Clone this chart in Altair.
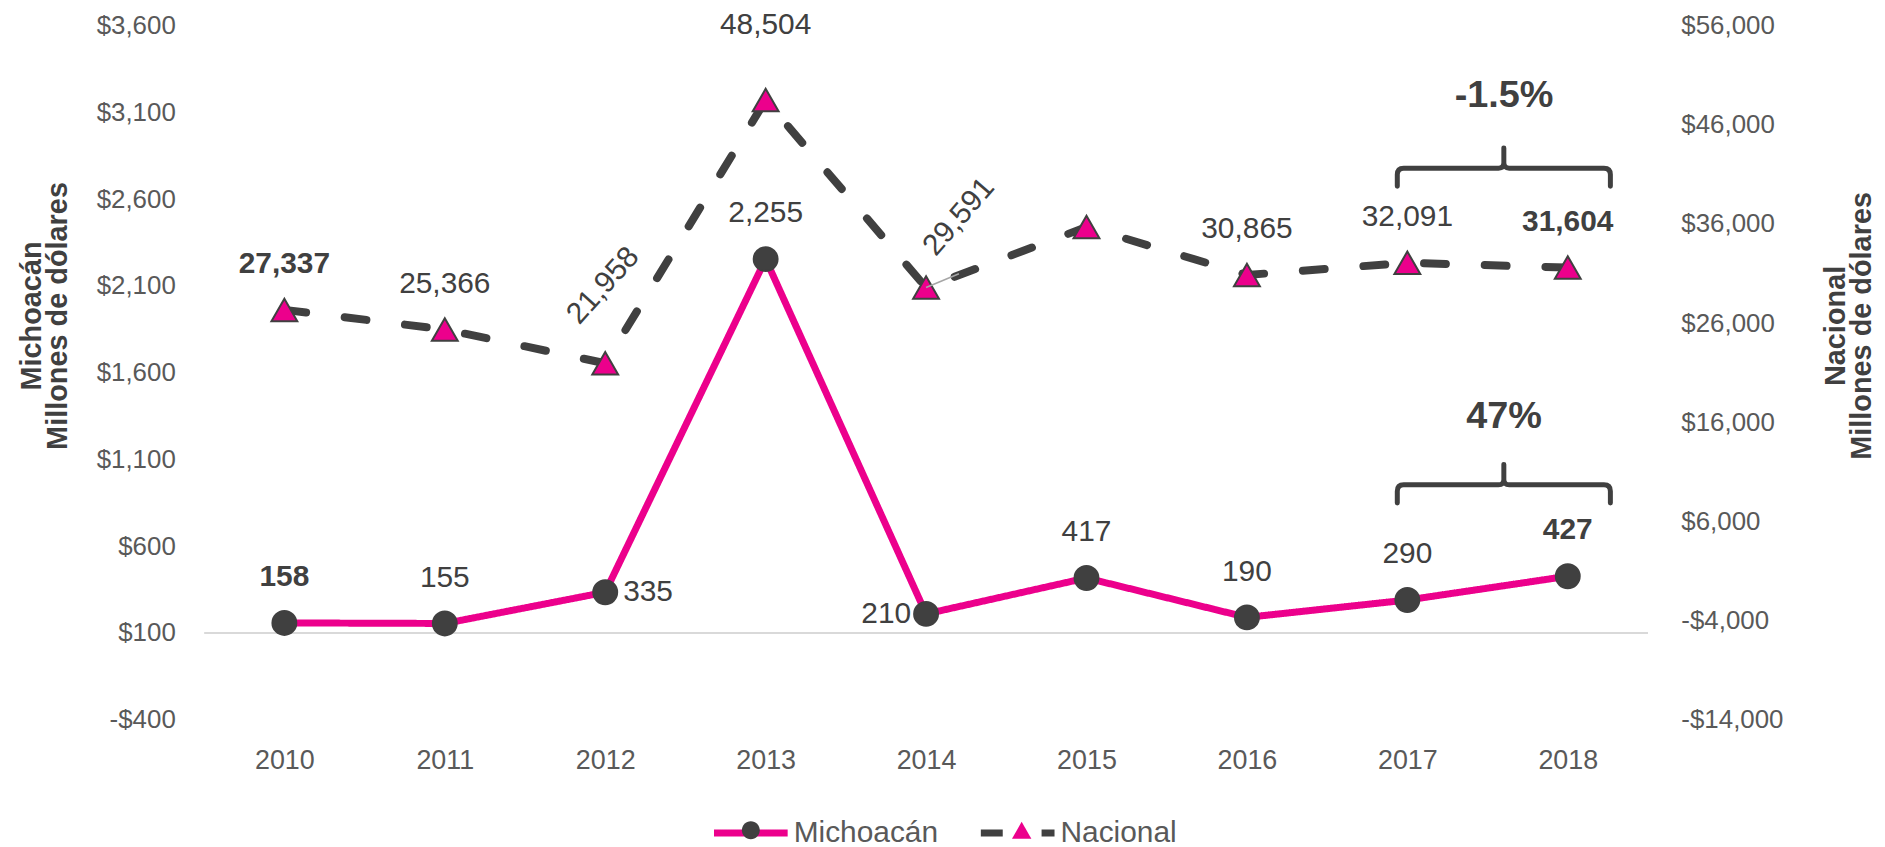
import altair as alt
import pandas as pd

# ---------------- data ----------------
years = ["2010", "2011", "2012", "2013", "2014", "2015", "2016", "2017", "2018"]
michoacan = [158, 155, 335, 2255, 210, 417, 190, 290, 427]
nacional = [27337, 25366, 21958, 48504, 29591, 35700, 30865, 32091, 31604]
mich_label_pos = ["bold", "above", "right", "above", "left", "above", "above", "above", "bold"]
nac_label_pos = ["bold", "above", "rotated", "above_high", "rotated_leader", "none", "above", "above", "bold"]
series = ["Michoacán", "Nacional"]
left_ticks = [-400, 100, 600, 1100, 1600, 2100, 2600, 3100, 3600]
right_ticks = [-14000, -4000, 6000, 16000, 26000, 36000, 46000, 56000]
left_domain = [-400, 3600]
right_domain = [-14000, 56000]
axis_base = [100]
pct_text = ["-1.5%", "47%"]
pct_level = [3192, 1345]
bracket_level = [2779, 954]
ann_year = ["2018", "2018"]

# ---------------- style ----------------
PINK = "#EC008C"
DARK = "#404040"
GREY = "#595959"
LIGHT = "#D9D9D9"
FONT = "Liberation Sans, Arial, sans-serif"

# custom symbol paths (unit box -1..1)
CIRCLE = "M0.243,0 A0.243,0.243 0 1,1 -0.243,0 A0.243,0.243 0 1,1 0.243,0 Z"
TRIANGLE = "M0,-0.229 L0.263,0.229 L-0.263,0.229 Z"
PT_SIZE = 9761
LEG_SIZE = 5476
BRACKET = ("M-1.6,0.17 L-1.6,0.06 Q-1.6,0 -1.54,0 L-0.65,0 Q-0.6,0 -0.6,-0.05 L-0.6,-0.19 "
           "M-0.6,-0.05 Q-0.6,0 -0.55,0 L0.34,0 Q0.4,0 0.4,0.06 L0.4,0.17")
LEADER = "M0,0 L1,-0.42"


def mk(vals, name, pos):
    return pd.DataFrame({
        "year": years, "v": vals, "s": name, "s2": name, "pos": pos,
        "lbl": [f"{v:,}" for v in vals],
    })


dm = mk(michoacan, "Michoacán", mich_label_pos)
dn = mk(nacional, "Nacional", nac_label_pos)
d_rule = pd.DataFrame({"v": axis_base})
d_br = pd.DataFrame({"year": ann_year, "v": bracket_level})
d_pct = pd.DataFrame({"year": ann_year, "v": pct_level, "t": pct_text})

LABEL_EXPR = "datum.value < 0 ? '-$' + format(-datum.value, ',') : '$' + format(datum.value, ',')"

X = alt.X("year:O", sort=years, scale=alt.Scale(type="point", padding=0.5),
          axis=alt.Axis(title=None, labelAngle=0, labelFont=FONT, labelFontSize=27,
                        labelColor=GREY, labelPadding=41, labelBaseline="middle",
                        ticks=False, domain=False, grid=False))


def yaxis(orient, ticks, title, tx, ty, pad):
    return alt.Axis(orient=orient, values=ticks, labelExpr=LABEL_EXPR, labelFont=FONT,
                    labelFontSize=26, labelColor=GREY, labelPadding=pad, ticks=False,
                    domain=False, grid=False, title=title, titleFont=FONT,
                    titleFontSize=29, titleFontWeight="bold", titleColor=DARK,
                    titleAngle=270, titleAlign="center", titleBaseline="middle",
                    titleLineHeight=26, titleX=tx, titleY=ty)


YL = alt.Y("v:Q", scale=alt.Scale(domain=left_domain, nice=False, zero=False),
           axis=yaxis("left", left_ticks, ["Michoacán", "Millones de dólares"], -173, 291, 29))
YR = alt.Y("v:Q", scale=alt.Scale(domain=right_domain, nice=False, zero=False),
           axis=yaxis("right", right_ticks, ["Nacional", "Millones de dólares"], 188, 301, 33))

leg1 = alt.Legend(title=None, orient="none", legendX=508.5, legendY=770, direction="horizontal",
                  symbolType="stroke", symbolSize=LEG_SIZE, symbolStrokeWidth=7,
                  labelFont=FONT, labelFontSize=30, labelColor=GREY, labelOffset=2.5,
                  labelLimit=0, columnPadding=28, padding=0)
leg2 = alt.Legend(title=None, orient="none", legendX=508.5, legendY=770, direction="horizontal",
                  symbolSize=LEG_SIZE, symbolStrokeWidth=2, symbolStrokeColor=DARK,
                  symbolOffset=2.5, labelFont=FONT, labelFontSize=30, labelOpacity=0,
                  labelOffset=7.5, labelLimit=0, columnPadding=40, padding=0)

COLOR = alt.Color("s:N", scale=alt.Scale(range=[PINK, DARK]), legend=leg1)
DASH = alt.StrokeDash("s:N", scale=alt.Scale(range=[[1, 0], [22, 39]]), legend=leg1)
FILL = alt.Fill("s2:N", scale=alt.Scale(range=[DARK, PINK]), legend=leg2)
SHAPE = alt.Shape("s2:N", scale=alt.Scale(range=[CIRCLE, TRIANGLE]), legend=leg2)


def line(df, Y, w):
    return alt.Chart(df).mark_line(strokeWidth=w, strokeCap="round", strokeJoin="round").encode(
        x=X, y=Y, color=COLOR, strokeDash=DASH)


def pts(df, Y):
    return alt.Chart(df).mark_point(filled=True, size=PT_SIZE, stroke=DARK, strokeWidth=2,
                                    opacity=1).encode(x=X, y=Y, fill=FILL, shape=SHAPE)


def labels(df, Y, pos, **kw):
    base = dict(font=FONT, fontSize=30, color=DARK, baseline="middle")
    base.update(kw)
    return alt.Chart(df).transform_filter(alt.datum.pos == pos).mark_text(**base).encode(
        x=X, y=Y, text="lbl:N")


rule = alt.Chart(d_rule).mark_rule(color=LIGHT, strokeWidth=2).encode(y=YL)

left = alt.layer(
    rule,
    line(dm, YL, 7),
    pts(dm, YL),
    labels(dm, YL, "above", dy=-46),
    labels(dm, YL, "bold", dy=-46, fontWeight="bold"),
    labels(dm, YL, "right", align="left", dx=18),
    labels(dm, YL, "left", align="right", dx=-15),
    alt.Chart(d_br).mark_point(shape=BRACKET, size=45796, filled=False, stroke=DARK,
                               strokeWidth=5, opacity=1, strokeCap="round",
                               strokeJoin="round").encode(x=X, y=YL),
    alt.Chart(d_pct).mark_text(font=FONT, fontSize=38, fontWeight="bold", color=DARK,
                               baseline="middle", dx=-64).encode(x=X, y=YL, text="t:N"),
)

right = alt.layer(
    line(dn, YR, 8),
    pts(dn, YR),
    alt.Chart(dn).transform_filter(alt.datum.pos == "rotated_leader").mark_point(
        shape=LEADER, size=4356, filled=False, stroke="#A6A6A6", strokeWidth=1.5,
        opacity=1).encode(x=X, y=YR),
    labels(dn, YR, "above", dy=-46),
    labels(dn, YR, "above_high", dy=-75),
    labels(dn, YR, "bold", dy=-46, fontWeight="bold"),
    labels(dn, YR, "rotated", angle=312, dx=56.6, dy=-53.7),
    labels(dn, YR, "rotated_leader", angle=311, dx=75.2, dy=-21.7),
)

chart = alt.layer(left, right).resolve_scale(y="independent").properties(
    width=1450, height=697,
    padding={"left": 197, "top": 16, "right": 230, "bottom": 126},
    autosize=alt.AutoSizeParams(type="none"),
    background="white",
).configure_view(stroke=None)

chart.save("out.html", embed_options={"renderer": "svg", "actions": False})
